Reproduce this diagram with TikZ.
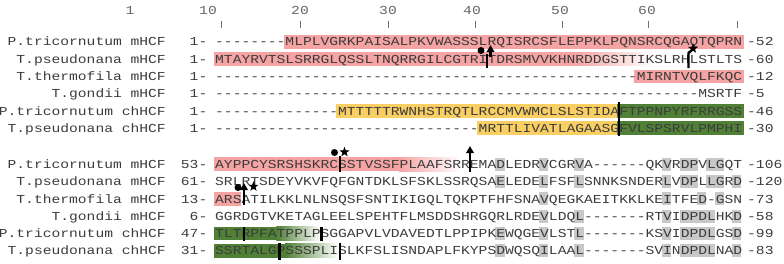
\documentclass[tikz,border=0pt]{standalone}
\usepackage{fontspec}
\setmonofont{Liberation Mono}[FakeStretch=1.2]
\usepackage{tikz}
\usetikzlibrary{shapes.geometric,arrows.meta,positioning}

\definecolor{seqpink}{RGB}{245,163,163}
\definecolor{seqyellow}{RGB}{249,206,98}
\definecolor{seqgreen}{RGB}{80,128,54}
\definecolor{seqgrey}{RGB}{200,200,200}
\definecolor{seqtext}{RGB}{60,60,60}

% left edge of an alignment column (1..60)
\newcommand{\colL}[1]{215+(#1-1)*8.77}

\begin{document}
\begin{tikzpicture}[x=1pt,y=-1pt,
  seq/.style={font=\ttfamily\fontsize{12.2}{14}\selectfont,text=seqtext,
    inner sep=0pt,anchor=base west},
  lab/.style={seq,anchor=base east},
  ruler/.style={font=\ttfamily\fontsize{12.2}{14}\selectfont,text=black!60,inner sep=0pt},
  tick/.style={black!55,line width=0.7pt},
  site/.style={black,line width=2.4pt},
  uparrow/.style={site,-{Triangle[length=7pt,width=7.5pt]}},
  dotmark/.style={circle,fill=black,inner sep=0pt,minimum size=7pt},
  starmark/.style={star,star points=5,star point ratio=2.4,fill=black,
    inner sep=0pt,minimum size=10.5pt},
]
  \useasboundingbox (0,0) rectangle (784,263);

  % ruler
  \foreach \lab/\x in {1/130,10/208,20/300,30/388,40/472,50/560,60/647}
    \node[ruler] (rl\lab) at (\x,10.5) {\lab};
  \foreach \x in {221,300,388,475,562,648,737}
    \draw[tick] (\x,20.5) -- (\x,28);

  % coloured regions
  \foreach \c/\y/\a/\b in {seqpink/41.7/9/60, seqpink/59.0/1/41, seqpink/76.3/49/60,
      seqyellow/110.9/15/46, seqgreen/110.9/47/60,
      seqyellow/128.2/31/46, seqgreen/128.2/47/60,
      seqpink/164.2/1/21, seqpink/198.8/1/3,
      seqgreen/233.4/1/7, seqgreen/250.7/1/8}
    \fill[\c] ({\colL{\a}-1.5},\y-6.8) rectangle ({\colL{\b}+8.77+(\b==60)*3},\y+6.8);
  \foreach \c/\y/\a/\b in {seqpink/59.0/41/50, seqpink/164.2/21/28,
      seqgreen/233.4/7/12, seqgreen/250.7/8/14}
    \shade[left color=\c,right color=white] ({\colL{\a}+8.77},\y-6.8) rectangle ({\colL{\b}+8.77},\y+6.8);

  % conserved columns
  \foreach \y/\cl in {164.2/{33,38,42,52,54,55,57,58},
      181.5/{33,38,42,52,54,55,57,58,60}, 198.8/{38,52,56,58},
      216.1/{38,42,52,54,55,56,57,60}, 233.4/{33,38,42,52,54,55,56,57,60},
      250.7/{33,38,42,52,54,55,56,57,60}}
    \foreach \c in \cl
      \fill[seqgrey] ({\colL{\c}-0.2},\y-6.5) rectangle ({\colL{\c}+8.97},\y+6.5);

  % first block
  \foreach \r/\y/\nm/\sq/\en in {
      1/41.7/P.tricornutum mHCF/--------MLPLVGRKPAISALPKVWASSSLRQISRCSFLEPPKLPQNSRCQGAQTQPRN/-52,
      2/59.0/T.pseudonana mHCF/MTAYRVTSLSRRGLQSSLTNQRRGILCGTRITDRSMVVKHNRDDGSTTIKSLRHLSTLTS/-60,
      3/76.3/T.thermofila mHCF/------------------------------------------------MIRNTVQLFKQC/-12,
      4/93.6/T.gondii mHCF/-------------------------------------------------------MSRTF/-5,
      5/110.9/P.tricornutum chHCF/--------------MTTTTTRWNHSTRQTLRCCMVWMCLSLSTIDAFTPPNPYRFRRGSS/-46,
      6/128.2/T.pseudonana chHCF/------------------------------MRTTLIVATLAGAASGFVLSPSRVLPMPHI/-30}{
    \node[lab] (nmA\r) at (166,\y+4.2) {\nm};
    \node[lab] (stA\r) at (207.5,\y+4.2) {1-};
    \node[seq] (sqA\r) at (215,\y+4.2) {\sq};
    \node[seq] (enA\r) at (747,\y+4.2) {\en};
  }

  % second block
  \foreach \r/\y/\nm/\st/\sq/\en in {
      1/164.2/P.tricornutum mHCF/53-/AYPPCYSRSHSKRCSSTVSSFPLAAFSRREMADLEDRVCGRVA------QKVRDPVLGQT/-106,
      2/181.5/T.pseudonana mHCF/61-/SRLRTSDEYVKVFQFGNTDKLSFSKLSSRQSAELEDELFSFLSNNKSNDERLVDPLLGRD/-120,
      3/198.8/T.thermofila mHCF/13-/ARSATILKKLNLNSQSFSNTIKIGQLTQKPTFHFSNAVQEGKAEITKKLKEITFED-GSN/-73,
      4/216.1/T.gondii mHCF/6-/GGRDGTVKETAGLEELSPEHTFLMSDDSHRGQRLRDEVLDQL-------RTVIDPDLHKD/-58,
      5/233.4/P.tricornutum chHCF/47-/TLTRPFATPPLPSGGAPVLVDAVEDTLPPIPKEWQGEVLSTL-------KSVIDPDLGSD/-99,
      6/250.7/T.pseudonana chHCF/31-/SSRTALGPSSSPLISLKFSLISNDAPLFKYPSDWQSQILAAL-------SVINDPDLNAD/-83}{
    \node[lab] (nmB\r) at (166,\y+4.2) {\nm};
    \node[lab] (stB\r) at (207.5,\y+4.2) {\st};
    \node[seq] (sqB\r) at (215,\y+4.2) {\sq};
    \node[seq] (enB\r) at (747,\y+4.2) {\en};
  }

  % sites, first block
  \node[dotmark] (dotA) at (481,50.5) {};
  \draw[site] (487,68) -- (487,54);
  \draw[uparrow] (490.5,57) -- (490.5,45);
  \draw[site] (688.5,68) -- (688.5,53) -- (691.5,50.5);
  \node[starmark] (starA) at (693,48.5) {};
  \draw[site] (619,102) -- (619,135.5);

  % sites, second block
  \node[dotmark] (dotB) at (334.5,152.5) {};
  \node[starmark] (starB) at (344.5,152) {};
  \draw[site] (340,156) -- (340,172);
  \draw[uparrow] (470,172) -- (470,146);
  \node[dotmark] (dotC) at (238,187.5) {};
  \draw[uparrow] (244,205) -- (244,183);
  \node[starmark] (starC) at (253.5,186.5) {};
  \draw[site] (244,227) -- (244,240.5);
  \draw[site] (321.5,227) -- (321.5,240.5);
  \draw[site] (279.5,243) -- (279.5,259.5);
  \draw[site] (340,243) -- (340,259.5);
\end{tikzpicture}
\end{document}
